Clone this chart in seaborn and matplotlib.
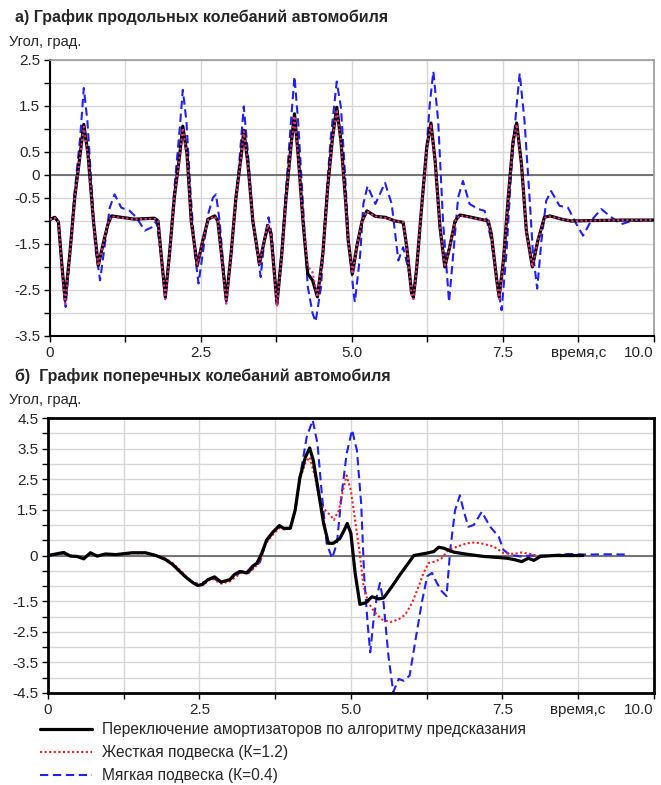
import numpy as np
import pandas as pd
import seaborn as sns
import matplotlib.pyplot as plt

# ---- а) продольные колебания: время и угол ----
t_a = [0, 0.08, 0.14, 0.2, 0.25, 0.33, 0.41, 0.5, 0.56, 0.63,
       0.72, 0.8, 0.88, 0.96, 1.02, 1.18, 1.4, 1.73, 1.79, 1.84,
       1.91, 1.98, 2.06, 2.15, 2.2, 2.27, 2.34, 2.44, 2.53, 2.62,
       2.73, 2.78, 2.84, 2.92, 3.0, 3.08, 3.17, 3.21, 3.28, 3.36,
       3.47, 3.55, 3.61, 3.66, 3.76, 3.84, 3.91, 4.0, 4.05, 4.11,
       4.19, 4.27, 4.35, 4.43, 4.52, 4.6, 4.68, 4.75, 4.82, 4.9,
       4.94, 5.01, 5.08, 5.17, 5.25, 5.39, 5.55, 5.72, 5.85, 5.91,
       5.99, 6.02, 6.07, 6.16, 6.24, 6.31, 6.38, 6.46, 6.54, 6.62,
       6.71, 6.79, 6.98, 7.26, 7.31, 7.4, 7.44, 7.51, 7.59, 7.67,
       7.73, 7.81, 7.89, 7.99, 8.08, 8.19, 8.28, 8.47, 8.63, 9.0,
       9.5, 10.0]
switch_a = [-0.97, -0.92, -1.02, -2.0, -2.72, -1.7, -0.49, 0.45, 1.1, 0.45,
            -1.0, -1.97, -1.5, -1.07, -0.89, -0.92, -0.96, -0.94, -1.0, -1.71,
            -2.65, -1.71, -0.49, 0.45, 1.06, 0.45, -1.0, -1.97, -1.43, -0.96,
            -0.89, -1.0, -1.71, -2.72, -1.71, -0.49, 0.45, 0.97, 0.23, -1.0,
            -1.93, -1.43, -1.1, -1.28, -2.8, -1.71, -0.49, 0.73, 1.33, 0.45,
            -1.0, -2.15, -2.29, -2.65, -1.71, -0.27, 0.81, 1.47, 0.73, -0.63,
            -1.43, -2.15, -1.57, -1.0, -0.78, -0.9, -0.92, -1.0, -1.03, -1.57,
            -2.58, -2.65, -2.07, -0.63, 0.59, 1.13, 0.3, -1.14, -2.0, -1.57,
            -1.0, -0.87, -0.92, -1.0, -1.28, -2.29, -2.65, -1.86, -0.49, 0.73,
            1.13, 0.23, -1.21, -2.0, -1.43, -0.92, -0.89, -0.96, -1.0, -0.99,
            -0.98, -0.98]
hard_a = [-0.97, -0.93, -1.02, -2.05, -2.8, -1.72, -0.5, 0.43, 1.05, 0.43,
          -1.0, -1.97, -1.5, -1.06, -0.9, -0.93, -0.96, -0.95, -1.0, -1.72,
          -2.7, -1.72, -0.5, 0.43, 1.02, 0.43, -1.0, -1.97, -1.43, -0.97,
          -0.9, -1.0, -1.72, -2.8, -1.72, -0.5, 0.43, 0.95, 0.22, -1.0,
          -1.93, -1.43, -1.08, -1.28, -2.86, -1.72, -0.5, 0.7, 1.28, 0.43,
          -1.0, -1.98, -2.12, -2.65, -1.72, -0.28, 0.78, 1.42, 0.7, -0.64,
          -1.43, -2.15, -1.57, -1.0, -0.79, -0.9, -0.93, -1.0, -1.03, -1.57,
          -2.6, -2.7, -2.07, -0.64, 0.57, 1.1, 0.28, -1.14, -2.0, -1.57,
          -1.0, -0.88, -0.93, -1.0, -1.28, -2.3, -2.7, -1.86, -0.5, 0.7,
          1.1, 0.22, -1.21, -2.0, -1.43, -0.93, -0.9, -0.96, -1.0, -0.99,
          -0.98, -0.98]
t_a_soft = [0, 0.08, 0.14, 0.2, 0.26, 0.33, 0.41, 0.5, 0.56, 0.62,
            0.69, 0.75, 0.83, 0.91, 0.99, 1.07, 1.18, 1.32, 1.43, 1.57,
            1.68, 1.76, 1.84, 1.91, 1.98, 2.06, 2.15, 2.2, 2.26, 2.33,
            2.4, 2.46, 2.53, 2.62, 2.7, 2.75, 2.81, 2.92, 3.0, 3.11,
            3.21, 3.28, 3.36, 3.49, 3.55, 3.62, 3.67, 3.76, 3.84, 3.91,
            4.0, 4.05, 4.11, 4.19, 4.27, 4.35, 4.4, 4.49, 4.57, 4.65,
            4.75, 4.82, 4.9, 4.94, 5.03, 5.05, 5.14, 5.19, 5.26, 5.39,
            5.55, 5.66, 5.77, 5.85, 5.94, 6.02, 6.1, 6.21, 6.29, 6.35,
            6.43, 6.51, 6.61, 6.68, 6.76, 6.84, 6.95, 7.09, 7.2, 7.31,
            7.42, 7.48, 7.56, 7.64, 7.73, 7.78, 7.86, 7.95, 8.0, 8.07,
            8.14, 8.22, 8.3, 8.44, 8.58, 8.72, 8.83, 8.96, 9.13, 9.3,
            9.46, 9.63, 10.0]
soft_a = [-0.97, -0.92, -1.02, -2.0, -2.87, -1.7, -0.35, 0.81, 1.89, 1.17,
          -0.27, -1.57, -2.29, -1.5, -0.71, -0.42, -0.71, -0.78, -0.92, -1.21,
          -1.14, -1.0, -1.71, -2.69, -1.71, -0.3, 1.02, 1.85, 1.17, -0.42,
          -1.71, -2.36, -1.71, -0.85, -0.49, -0.42, -1.0, -2.76, -1.71, -0.13,
          1.49, 0.45, -1.0, -2.22, -1.43, -0.92, -1.28, -2.83, -1.6, -0.3,
          1.31, 2.14, 1.17, -0.63, -2.43, -3.01, -3.19, -2.43, -0.63, 0.81,
          2.03, 1.46, -0.27, -1.35, -2.58, -2.76, -1.71, -0.63, -0.24, -0.63,
          -0.17, -0.63, -1.86, -1.57, -2.07, -2.69, -1.71, 0.09, 1.53, 2.25,
          1.17, -1.0, -2.76, -1.71, -0.49, -0.13, -0.63, -0.74, -0.78, -1.43,
          -2.43, -2.94, -1.71, 0.09, 1.53, 2.21, 1.17, -0.63, -1.71, -2.47,
          -1.43, -0.56, -0.35, -0.67, -0.71, -1.07, -1.32, -1.0, -0.74, -0.92,
          -1.07, -1.0, -0.98]

# ---- б) поперечные колебания ----
t_b = [0, 0.26, 0.37, 0.48, 0.59, 0.7, 0.81, 0.95, 1.12, 1.39,
       1.61, 1.78, 1.94, 2.06, 2.19, 2.3, 2.4, 2.47, 2.55, 2.64,
       2.75, 2.86, 3.0, 3.08, 3.17, 3.28, 3.38, 3.45, 3.53, 3.61,
       3.72, 3.82, 3.89, 4.0, 4.08, 4.16, 4.25, 4.32, 4.38, 4.47,
       4.55, 4.63, 4.71, 4.82, 4.89, 4.94, 5.0, 5.07, 5.15, 5.24,
       5.35, 5.46, 5.54, 5.68, 5.81, 5.95, 6.04, 6.15, 6.26, 6.37,
       6.45, 6.53, 6.7, 6.92, 7.19, 7.47, 7.58, 7.71, 7.82, 7.93,
       8.02, 8.13, 8.35, 8.83]
switch_b = [0, 0.1, -0.02, -0.03, -0.11, 0.09, -0.02, 0.05, 0.03, 0.09,
            0.09, 0, -0.13, -0.3, -0.55, -0.75, -0.9, -0.98, -0.95, -0.79,
            -0.7, -0.87, -0.79, -0.62, -0.52, -0.57, -0.35, -0.25, 0.08, 0.51,
            0.78, 0.98, 0.89, 0.89, 1.48, 2.57, 3.22, 3.52, 3.11, 2.03,
            1.05, 0.4, 0.4, 0.56, 0.83, 1.05, 0.73, -0.57, -1.6, -1.55,
            -1.35, -1.42, -1.39, -1.01, -0.63, -0.25, 0, 0.04, 0.08, 0.13,
            0.27, 0.24, 0.11, 0.04, -0.03, -0.07, -0.09, -0.14, -0.2, -0.09,
            -0.16, -0.03, 0, 0]
t_b_hard = [0, 0.26, 0.37, 0.48, 0.59, 0.7, 0.81, 0.95, 1.12, 1.39,
            1.61, 1.78, 1.94, 2.06, 2.19, 2.3, 2.4, 2.5, 2.6, 2.7,
            2.86, 3.0, 3.1, 3.2, 3.3, 3.4, 3.5, 3.6, 3.72, 3.82,
            3.9, 4.0, 4.08, 4.16, 4.25, 4.32, 4.41, 4.49, 4.58, 4.66,
            4.72, 4.8, 4.87, 4.93, 5.0, 5.07, 5.14, 5.21, 5.29, 5.4,
            5.51, 5.65, 5.79, 5.9, 6.01, 6.12, 6.2, 6.28, 6.39, 6.5,
            6.61, 6.75, 6.92, 7.05, 7.19, 7.36, 7.52, 7.69, 7.82, 7.96,
            8.13, 8.4]
hard_b = [0, 0.08, 0, -0.02, -0.08, 0.06, 0, 0.04, 0.03, 0.07,
          0.08, 0.02, -0.1, -0.25, -0.5, -0.72, -0.88, -0.95, -0.9, -0.75,
          -0.92, -0.85, -0.7, -0.55, -0.6, -0.42, -0.2, 0.4, 0.7, 0.9,
          0.85, 0.9, 1.45, 2.5, 3.05, 3.22, 2.57, 1.7, 1.48, 1.32,
          1.16, 1.48, 2.13, 2.62, 2.13, 1.16, 0.18, -1.01, -1.55, -1.87,
          -2.09, -2.18, -2.09, -1.93, -1.55, -1.01, -0.57, -0.25, -0.2, -0.09,
          0.18, 0.29, 0.4, 0.43, 0.38, 0.29, 0.08, 0.05, 0.1, 0.05,
          -0.03, 0]
t_b_soft = [0, 0.26, 0.37, 0.48, 0.59, 0.7, 0.81, 0.95, 1.12, 1.39,
            1.61, 1.78, 1.94, 2.06, 2.19, 2.3, 2.4, 2.5, 2.6, 2.7,
            2.86, 3.0, 3.1, 3.2, 3.3, 3.4, 3.5, 3.6, 3.72, 3.82,
            3.9, 4.0, 4.08, 4.16, 4.27, 4.37, 4.45, 4.52, 4.6, 4.69,
            4.77, 4.85, 4.93, 5.02, 5.1, 5.17, 5.22, 5.28, 5.32, 5.37,
            5.43, 5.48, 5.54, 5.62, 5.7, 5.79, 5.87, 5.97, 6.06, 6.17,
            6.26, 6.34, 6.42, 6.5, 6.58, 6.64, 6.72, 6.8, 6.86, 6.94,
            7.03, 7.16, 7.3, 7.44, 7.52, 7.63, 7.8, 7.96, 8.24, 8.6,
            8.9, 9.2, 9.6]
soft_b = [0, 0.07, -0.03, -0.03, -0.1, 0.07, -0.02, 0.05, 0.03, 0.08,
          0.08, 0.01, -0.12, -0.28, -0.52, -0.74, -0.9, -0.92, -0.85, -0.72,
          -0.88, -0.8, -0.66, -0.52, -0.58, -0.38, -0.22, 0.45, 0.75, 0.95,
          0.88, 0.9, 1.5, 2.57, 3.87, 4.43, 3.65, 2.03, 0.4, -0.09,
          0.4, 2.03, 3.33, 4.11, 3.44, 1.7, -0.68, -2.31, -3.17, -2.2,
          -1.33, -0.9, -1.55, -3.28, -4.47, -4.04, -4.1, -3.93, -2.85, -1.55,
          -0.68, -0.57, -0.9, -1.17, -1.33, 0.18, 1.48, 1.97, 1.48, 0.94,
          1.0, 1.43, 0.94, 0.62, 0.18, 0.02, -0.03, 0, 0, 0.05,
          0.03, 0.04, 0.03]

x_ticks = [0, 1.25, 2.5, 3.75, 5.0, 6.25, 7.5, 8.75, 10.0]
x_labels = ['0', '', '2.5', '', '5.0', '', '7.5', 'время,с', '10.0']
y_labeled_a = [2.5, 1.5, 0.5, 0, -0.5, -1.5, -2.5, -3.5]
y_labeled_b = [4.5, 3.5, 2.5, 1.5, 0, -1.5, -2.5, -3.5, -4.5]

legend_labels = ['Переключение амортизаторов по алгоритму предсказания',
                 'Жесткая подвеска (К=1.2)',
                 'Мягкая подвеска (К=0.4)']

sns.set_style('white')
plt.rcParams['font.family'] = ['Liberation Sans', 'DejaVu Sans']

fig = plt.figure(figsize=(6.61, 7.85), dpi=100)
ax1 = fig.add_axes([0.0756, 0.572, 0.9134, 0.3516])
ax2 = fig.add_axes([0.0726, 0.1172, 0.9164, 0.3503])


def setup(ax, ymin, ymax, labeled):
    ax.set_xlim(0, 10)
    ax.set_ylim(ymin, ymax)
    ax.set_xticks(x_ticks)
    ax.set_xticklabels(x_labels)
    ax.get_xticklabels()[-1].set_horizontalalignment('right')
    yt = np.arange(ymin, ymax + 0.01, 0.5)
    ax.set_yticks(yt)
    ax.set_yticklabels([('%g' % v if any(abs(v - l) < 1e-6 for l in labeled) else '') for v in yt])
    ax.grid(True, color='#d6d6d6', lw=1.0)
    ax.set_axisbelow(True)
    ax.axhline(0, color='#6a6a6a', lw=1.3, zorder=1.5)
    ax.tick_params(axis='both', direction='out', length=4, width=1, color='black',
                   labelsize=11, pad=3, left=True, bottom=True)
    ax.set_xlabel('')
    ax.set_ylabel('')


# top chart
sns.lineplot(x=t_a_soft, y=soft_a, ax=ax1, color='#1f1fff', lw=1.5,
             linestyle=(0, (4, 2.2)), estimator=None, zorder=2)
sns.lineplot(x=t_a, y=switch_a, ax=ax1, color='black', lw=2.3, estimator=None, zorder=3)
sns.lineplot(x=t_a, y=hard_a, ax=ax1, color='#ee2a8c', lw=1.5,
             linestyle=(0, (1, 1.2)), estimator=None, zorder=4)
setup(ax1, -3.5, 2.5, y_labeled_a)
for s in ['top', 'right']:
    ax1.spines[s].set_color('#9a9a9a')
    ax1.spines[s].set_linewidth(1.2)
for s in ['left', 'bottom']:
    ax1.spines[s].set_color('black')
    ax1.spines[s].set_linewidth(1.5)

# bottom chart
sns.lineplot(x=t_b_soft, y=soft_b, ax=ax2, color='#1f1fff', lw=1.5,
             linestyle=(0, (4, 2.2)), estimator=None, zorder=2)
sns.lineplot(x=t_b_hard, y=hard_b, ax=ax2, color='#ff1a1a', lw=1.5,
             linestyle=(0, (1, 1.2)), estimator=None, zorder=3)
sns.lineplot(x=t_b, y=switch_b, ax=ax2, color='black', lw=2.3, estimator=None, zorder=4)
setup(ax2, -4.5, 4.5, y_labeled_b)
for s in ax2.spines.values():
    s.set_color('black')
    s.set_linewidth(2)

blue_h, red_h, black_h = ax2.lines[0], ax2.lines[1], ax2.lines[2]

fig.text(0.022, 0.978, 'а) График продольных колебаний автомобиля',
         fontsize=11.5, fontweight='bold', va='center', ha='left')
fig.text(0.014, 0.9465, 'Угол, град.', fontsize=10.5, va='center', ha='left')
fig.text(0.022, 0.521, 'б)  График поперечных колебаний автомобиля',
         fontsize=11.5, fontweight='bold', va='center', ha='left')
fig.text(0.014, 0.4904, 'Угол, град.', fontsize=10.5, va='center', ha='left')

fig.legend(handles=[black_h, red_h, blue_h], labels=legend_labels,
           loc='upper left', bbox_to_anchor=(0.04, 0.098), frameon=False,
           fontsize=11.2, handlelength=3.3, handletextpad=0.65, labelspacing=0.52)

fig.savefig('out.png', dpi=100)
